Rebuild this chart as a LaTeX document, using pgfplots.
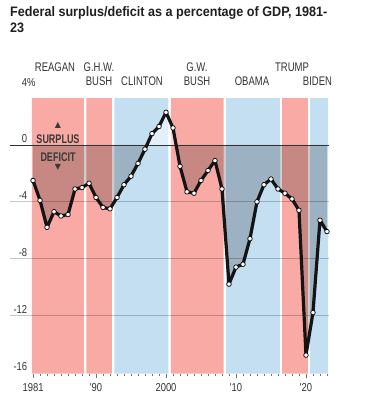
\documentclass[border=0pt]{standalone}
\usepackage{pgfplots}
\pgfplotsset{compat=1.18}
\usepackage{fontspec}
\setmainfont{Liberation Sans}
\newfontfamily\cond{Liberation Sans}[FakeStretch=0.82]
\newfontfamily\condn{Liberation Sans}[FakeStretch=0.76]
\newfontfamily\condb{Liberation Sans}[FakeStretch=0.72]
\newfontfamily\titlef{Liberation Sans}[FakeStretch=0.92]
\newfontfamily\sym{DejaVu Sans}
\definecolor{pinkb}{HTML}{F9AAA4}
\definecolor{blueb}{HTML}{C4DEF2}
\definecolor{lab}{HTML}{333333}
\pgfplotstableread{
year val
1981 -2.5
1982 -3.9
1983 -5.8
1984 -4.7
1985 -5.0
1986 -4.9
1987 -3.1
1988 -3.0
1989 -2.7
1990 -3.7
1991 -4.4
1992 -4.5
1993 -3.7
1994 -2.8
1995 -2.2
1996 -1.3
1997 -0.3
1998 0.8
1999 1.3
2000 2.3
2001 1.2
2002 -1.5
2003 -3.3
2004 -3.4
2005 -2.5
2006 -1.8
2007 -1.1
2008 -3.1
2009 -9.8
2010 -8.6
2011 -8.4
2012 -6.6
2013 -4.0
2014 -2.8
2015 -2.4
2016 -3.1
2017 -3.4
2018 -3.8
2019 -4.6
2020 -14.8
2021 -11.8
2022 -5.3
2023 -6.1
}\deficit
\newcommand{\tl}{\cond\fontsize{11.5}{13}\selectfont}
\newcommand{\pl}{\condn\fontsize{12.5}{14}\selectfont}
\begin{document}
\begin{tikzpicture}
\path[use as bounding box] (0pt,0pt) rectangle (377pt,395pt);
\node[anchor=base west, inner sep=0, font=\titlef\bfseries\fontsize{13.7}{16}\selectfont, text=black!88] at (10pt,378pt) {Federal surplus/deficit as a percentage of GDP, 1981-};
\node[anchor=base west, inner sep=0, font=\titlef\bfseries\fontsize{13.7}{16}\selectfont, text=black!88] at (10pt,362pt) {23};
\begin{axis}[at={(10pt,21.4pt)}, anchor=south west, scale only axis,
  width=319pt, height=275.5pt,
  xmin=1977.71, xmax=2023.29, ymin=-16.1, ymax=3.3, clip=false,
  axis x line*=bottom, axis y line*=left, axis line style={draw=none},
  ytick=\empty,
  xtick={1981,1990,2000,2010,2020}, xticklabels={1981,'90,2000,'10,'20},
  minor xtick={1981,...,2023}, tick align=outside,
  major tick length=4pt, minor tick length=2.5pt,
  tick style={black!55, line width=0.8pt},
  xticklabel style={font=\tl, text=lab, yshift=-2.5pt}]
% bands
\addplot[fill=pinkb, draw=none, forget plot] coordinates {(1980.85,-16.1) (1988.27,-16.1) (1988.27,3.3) (1980.85,3.3) (1980.85,-16.1)};
\addplot[fill=pinkb, draw=none, forget plot] coordinates {(1988.63,-16.1) (1992.27,-16.1) (1992.27,3.3) (1988.63,3.3) (1988.63,-16.1)};
\addplot[fill=blueb, draw=none, forget plot] coordinates {(1992.63,-16.1) (2000.33,-16.1) (2000.33,3.3) (1992.63,3.3) (1992.63,-16.1)};
\addplot[fill=pinkb, draw=none, forget plot] coordinates {(2000.7,-16.1) (2008.25,-16.1) (2008.25,3.3) (2000.7,3.3) (2000.7,-16.1)};
\addplot[fill=blueb, draw=none, forget plot] coordinates {(2008.6,-16.1) (2016.27,-16.1) (2016.27,3.3) (2008.6,3.3) (2008.6,-16.1)};
\addplot[fill=pinkb, draw=none, forget plot] coordinates {(2016.6,-16.1) (2020.27,-16.1) (2020.27,3.3) (2016.6,3.3) (2016.6,-16.1)};
\addplot[fill=blueb, draw=none, forget plot] coordinates {(2020.6,-16.1) (2023.15,-16.1) (2023.15,3.3) (2020.6,3.3) (2020.6,-16.1)};
% area between curve and zero
\addplot[fill=black, fill opacity=0.2, draw=none, forget plot] coordinates {
(1981,0) (1981,-2.5) (1982,-3.9) (1983,-5.8) (1984,-4.7) (1985,-5.0) (1986,-4.9) (1987,-3.1) (1988,-3.0) (1989,-2.7) (1990,-3.7) (1991,-4.4) (1992,-4.5) (1993,-3.7) (1994,-2.8) (1995,-2.2) (1996,-1.3) (1997,-0.3) (1997.27,0) (1981,0)};
\addplot[fill=white, fill opacity=0.55, draw=none, forget plot] coordinates {
(1997.27,0) (1998,0.8) (1999,1.3) (2000,2.3) (2001,1.2) (2001.44,0) (1997.27,0)};
\addplot[fill=black, fill opacity=0.2, draw=none, forget plot] coordinates {
(2001.44,0) (2002,-1.5) (2003,-3.3) (2004,-3.4) (2005,-2.5) (2006,-1.8) (2007,-1.1) (2008,-3.1) (2009,-9.8) (2010,-8.6) (2011,-8.4) (2012,-6.6) (2013,-4.0) (2014,-2.8) (2015,-2.4) (2016,-3.1) (2017,-3.4) (2018,-3.8) (2019,-4.6) (2020,-14.8) (2021,-11.8) (2022,-5.3) (2023,-6.1) (2023,0) (2001.44,0)};
% grid
\addplot[black, opacity=0.22, line width=0.8pt, forget plot] coordinates {(1977.71,-4) (2023.29,-4)};
\addplot[black, opacity=0.22, line width=0.8pt, forget plot] coordinates {(1977.71,-8) (2023.29,-8)};
\addplot[black, opacity=0.22, line width=0.8pt, forget plot] coordinates {(1977.71,-12) (2023.29,-12)};
\addplot[black!80, line width=0.9pt, forget plot] coordinates {(1977.71,0) (2023.29,0)};
% line
\addplot[black!92, line width=3.2pt, line join=round, mark=*, mark size=2.3pt,
  mark options={fill=white, draw=black, line width=0.7pt}] table[x=year,y=val] {\deficit};
% y labels
\node[anchor=base east, inner sep=0, yshift=2pt, font=\tl, text=lab] at (axis cs:1980.2,0) {0};
\node[anchor=base east, inner sep=0, yshift=2pt, font=\tl, text=lab] at (axis cs:1980.2,-4) {-4};
\node[anchor=base east, inner sep=0, yshift=2pt, font=\tl, text=lab] at (axis cs:1980.2,-8) {-8};
\node[anchor=base east, inner sep=0, yshift=2pt, font=\tl, text=lab] at (axis cs:1980.2,-12) {-12};
\node[anchor=base east, inner sep=0, yshift=2pt, font=\tl, text=lab] at (axis cs:1980.2,-16) {-16};
\node[anchor=base east, inner sep=0, yshift=2pt, font=\tl, text=lab] at (axis cs:1980.2,4) {4\rlap{\%}};
\end{axis}
% president labels
\begin{scope}[font=\pl, text=lab, inner sep=0]
\node[anchor=base] at (55pt,323pt) {REAGAN};
\node[anchor=base] at (99pt,323pt) {G.H.W.};
\node[anchor=base] at (99pt,309pt) {BUSH};
\node[anchor=base] at (142pt,309pt) {CLINTON};
\node[anchor=base] at (197pt,323pt) {G.W.};
\node[anchor=base] at (197pt,309pt) {BUSH};
\node[anchor=base] at (252pt,309pt) {OBAMA};
\node[anchor=base] at (292pt,323pt) {TRUMP};
\node[anchor=base] at (317.5pt,309pt) {BIDEN};
\end{scope}
% surplus / deficit
\begin{scope}[font=\condb\bfseries\fontsize{12.5}{14}\selectfont, text=black!78, inner sep=0]
\node[anchor=center] at (58pt,256pt) {SURPLUS};
\node[anchor=center] at (58pt,238pt) {DEFICIT};
\node[anchor=center, font=\sym\fontsize{8}{9}\selectfont] at (58pt,270pt) {▲};
\node[anchor=center, font=\sym\fontsize{8}{9}\selectfont] at (58pt,228pt) {▼};
\end{scope}
\end{tikzpicture}
\end{document}
